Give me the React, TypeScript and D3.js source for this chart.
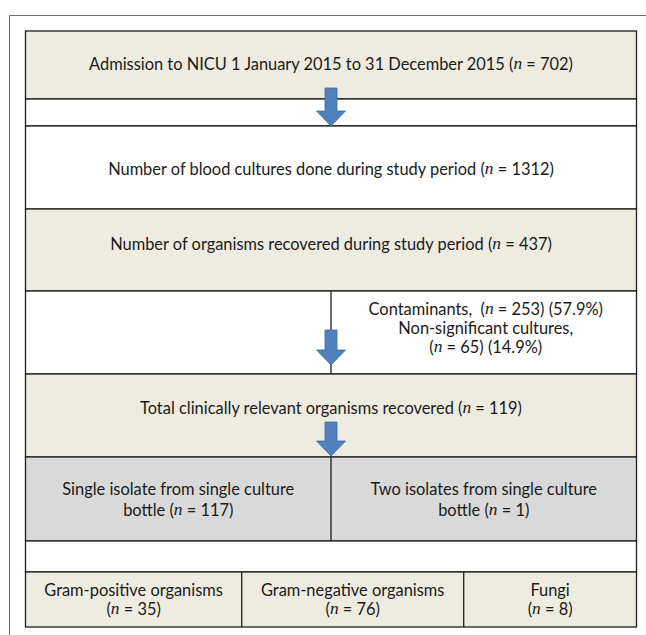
import React from "react";
import * as d3 from "d3";

const W = 646;
const H = 635;

const BEIGE = "#eeece1";
const GREY = "#d9d9d9";
const WHITE = "#ffffff";
const EDGE = "#1f1f1f";
const ARROW = "#4f81bd";
const ARROW_EDGE = "#3b6aa0";

// each text line: plain parts and italic "n" parts
type Part = { t: string; it?: boolean };
type Line = Part[];

const n = (rest: string): Part[] => [{ t: "(" }, { t: "n", it: true }, { t: rest }];

const headerLines: Line[] = [
  [{ t: "Admission to NICU 1 January 2015 to 31 December 2015 " }, ...n(" = 702)")],
];
const cultureLines: Line[] = [
  [{ t: "Number of blood cultures done during study period " }, ...n(" = 1312)")],
];
const organismLines: Line[] = [
  [{ t: "Number of organisms recovered during study period " }, ...n(" = 437)")],
];
const excludedLines: Line[] = [
  [{ t: "Contaminants,\u00a0 " }, ...n(" = 253) (57.9%)")],
  [{ t: "Non-significant cultures," }],
  [...n(" = 65) (14.9%)")],
];
const relevantLines: Line[] = [
  [{ t: "Total clinically relevant organisms recovered " }, ...n(" = 119)")],
];
const isolateCells: Line[][] = [
  [[{ t: "Single isolate from single culture" }], [{ t: "bottle " }, ...n(" = 117)")]],
  [[{ t: "Two isolates from single culture" }], [{ t: "bottle " }, ...n(" = 1)")]],
];
const groupNames = ["Gram-positive organisms", "Gram-negative organisms", "Fungi"];
const groupCounts = [35, 76, 8];

// row boundaries (px) in the frame, top to bottom
const rowEdges = [31, 99, 126, 209, 291, 374, 457, 541, 572, 627];
const colLeft = 25.5;
const colRight = 636.5;
const mid = 331;
const groupSplits = [colLeft, 241.7, 463.7, colRight];

const x = d3.scaleLinear().domain([0, 1]).range([colLeft, colRight]);

const FONT = "Lato, 'Noto Sans', sans-serif";
const FS = 16.4;
const LH = 19.5;

function TextBlock({ lines, cx, cy, lh = LH }: { lines: Line[]; cx: number; cy: number; lh?: number }) {
  const y0 = cy - ((lines.length - 1) * lh) / 2;
  return (
    <>
      {lines.map((line, i) => (
        <text
          key={i}
          x={cx}
          y={y0 + i * lh}
          textAnchor="middle"
          dominantBaseline="central"
          fontFamily={FONT}
          fontSize={FS}
          fill="#1a1a1a"
        >
          {line.map((p, j) =>
            p.it ? (
              <tspan key={j} fontFamily="'Liberation Serif', serif" fontStyle="italic" fontSize={FS + 1}>
                {p.t}
              </tspan>
            ) : (
              <tspan key={j}>{p.t}</tspan>
            )
          )}
        </text>
      ))}
    </>
  );
}

function DownArrow({ cx, top, tip }: { cx: number; top: number; tip: number }) {
  const shaftW = 12;
  const headW = 29;
  const headH = 15;
  const neck = tip - headH;
  const p = d3.path();
  p.moveTo(cx - shaftW / 2, top);
  p.lineTo(cx + shaftW / 2, top);
  p.lineTo(cx + shaftW / 2, neck);
  p.lineTo(cx + headW / 2, neck);
  p.lineTo(cx, tip);
  p.lineTo(cx - headW / 2, neck);
  p.lineTo(cx - shaftW / 2, neck);
  p.closePath();
  return <path d={p.toString()} fill={ARROW} stroke={ARROW_EDGE} strokeWidth={0.8} />;
}

export default function App() {
  const r = rowEdges;
  const rows = [
    { y0: r[0], y1: r[1], fill: BEIGE },
    { y0: r[1], y1: r[2], fill: WHITE },
    { y0: r[2], y1: r[3], fill: WHITE },
    { y0: r[3], y1: r[4], fill: BEIGE },
    { y0: r[4], y1: r[5], fill: WHITE },
    { y0: r[5], y1: r[6], fill: BEIGE },
    { y0: r[6], y1: r[7], fill: GREY },
    { y0: r[7], y1: r[8], fill: WHITE },
    { y0: r[8], y1: r[9], fill: BEIGE },
  ];
  const excludedCx = (mid + colRight) / 2;
  return (
    <svg
      width={W}
      height={H}
      style={{ position: "absolute", left: 0, top: 0, background: "#fff" }}
    >
      {/* outer frame */}
      <path d={`M${W + 2},15.5 H9.5 V${H + 2}`} fill="none" stroke="#6e6e6e" strokeWidth={1} />

      {rows.map((row, i) => (
        <rect
          key={i}
          x={x(0)}
          y={row.y0}
          width={x(1) - x(0)}
          height={row.y1 - row.y0}
          fill={row.fill}
          stroke={EDGE}
          strokeWidth={1.3}
        />
      ))}

      {/* dividers */}
      <line x1={mid} x2={mid} y1={r[4]} y2={r[5]} stroke={EDGE} strokeWidth={1.3} />
      <line x1={mid} x2={mid} y1={r[6]} y2={r[7]} stroke={EDGE} strokeWidth={1.3} />
      {groupSplits.slice(1, -1).map((gx, i) => (
        <line key={i} x1={gx} x2={gx} y1={r[8]} y2={r[9]} stroke={EDGE} strokeWidth={1.3} />
      ))}

      {/* arrows */}
      <DownArrow cx={mid} top={88} tip={r[2]} />
      <DownArrow cx={mid} top={330} tip={365} />
      <DownArrow cx={mid} top={422} tip={r[6] - 1} />

      <TextBlock lines={headerLines} cx={mid} cy={63} />
      <TextBlock lines={cultureLines} cx={mid} cy={(r[2] + r[3]) / 2} />
      <TextBlock lines={organismLines} cx={mid} cy={243} />
      <TextBlock lines={excludedLines} cx={excludedCx + 2} cy={327} lh={19} />
      <TextBlock lines={relevantLines} cx={mid} cy={407} />
      <TextBlock lines={isolateCells[0]} cx={(colLeft + mid) / 2} cy={(r[6] + r[7]) / 2 - 1} lh={21} />
      <TextBlock lines={isolateCells[1]} cx={excludedCx} cy={(r[6] + r[7]) / 2 - 1} lh={21} />
      {groupNames.map((name, i) => (
        <TextBlock
          key={name}
          lines={[[{ t: name }], n(` = ${groupCounts[i]})`)]}
          cx={(groupSplits[i] + groupSplits[i + 1]) / 2}
          cy={(r[8] + r[9]) / 2 - 1}
        />
      ))}
    </svg>
  );
}
